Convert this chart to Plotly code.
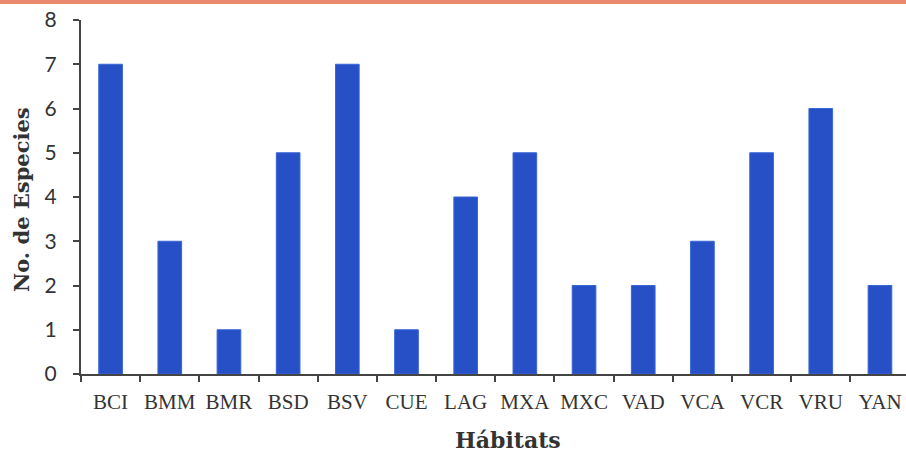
import plotly.graph_objects as go

habitats = ["BCI", "BMM", "BMR", "BSD", "BSV", "CUE", "LAG", "MXA", "MXC",
            "VAD", "VCA", "VCR", "VRU", "YAN"]
especies = [7, 3, 1, 5, 7, 1, 4, 5, 2, 2, 3, 5, 6, 2]

fig = go.Figure()
fig.add_trace(go.Bar(
    x=habitats, y=especies,
    marker=dict(color="#2750C6", line=dict(color="#3A66D8", width=1)),
))

W, H = 906, 453
ml, mr, mt, mb = 81, 0, 20, 79
ph = H - mt - mb
pw = W - ml - mr

fig.update_layout(
    width=W, height=H,
    margin=dict(l=ml, r=mr, t=mt, b=mb, pad=0, autoexpand=False),
    plot_bgcolor="white", paper_bgcolor="white",
    bargap=0.6, showlegend=False,
    xaxis=dict(
        type="category", range=[-0.5, 13.44], automargin=False,
        showline=True, linecolor="#444444", linewidth=2,
        ticks="outside", tickson="boundaries", ticklen=6, tickwidth=2,
        tickcolor="#444444", showgrid=False, tickangle=0,
        tickfont=dict(family="Liberation Serif", size=21, color="#333333"),
        ticklabelstandoff=8,
    ),
    yaxis=dict(
        range=[0, 8], dtick=1, automargin=False,
        showline=True, linecolor="#444444", linewidth=2,
        ticks="outside", ticklen=6, tickwidth=2, tickcolor="#444444",
        showgrid=False, zeroline=False,
        tickfont=dict(family="Lato", size=21, color="#333333"),
        ticklabelstandoff=12,
    ),
)

fig.add_annotation(text="<b>Hábitats</b>", xref="paper", yref="paper",
                   x=(508 - ml) / pw, y=-(440 - (mt + ph)) / ph,
                   xanchor="center", yanchor="middle", showarrow=False,
                   font=dict(family="DejaVu Serif", size=22, color="#333333"))
fig.add_annotation(text="<b>No. de Especies</b>", xref="paper", yref="paper",
                   x=-(ml - 21) / pw, y=(mt + ph - 200) / ph,
                   xanchor="center", yanchor="middle", showarrow=False,
                   textangle=-90,
                   font=dict(family="DejaVu Serif", size=21, color="#333333"))

fig.add_shape(type="rect", xref="paper", yref="paper",
              x0=-ml / pw, x1=1.0,
              y0=1 + (mt - 4) / ph, y1=1 + mt / ph,
              fillcolor="#E8886E", line=dict(width=0), layer="above")

fig.write_html("out.html")
